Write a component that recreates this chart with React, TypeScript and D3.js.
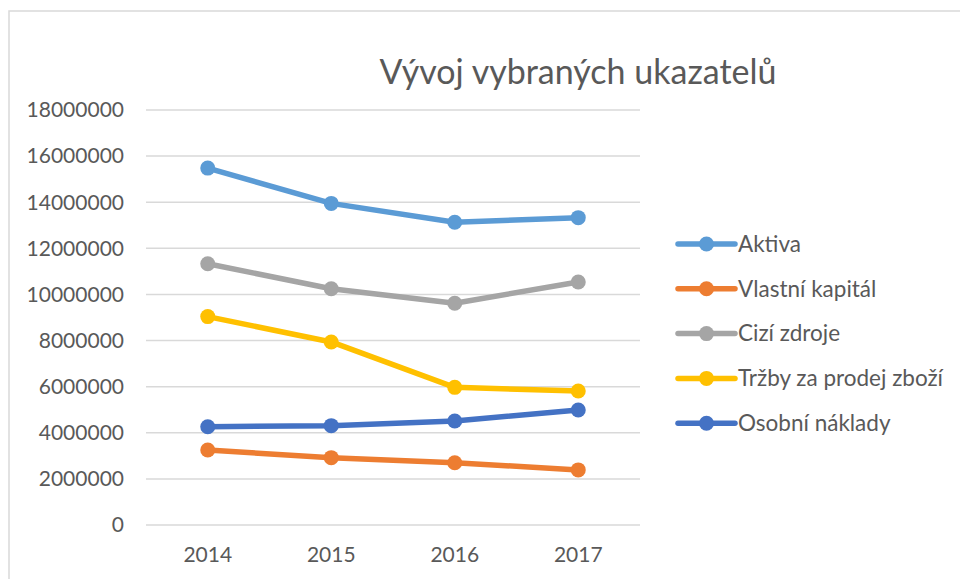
import React from "react";
import * as d3 from "d3";

const years = ["2014", "2015", "2016", "2017"];
const seriesNames = ["Aktiva", "Vlastní kapitál", "Cizí zdroje", "Tržby za prodej zboží", "Osobní náklady"];
const aktiva = [15480000, 13950000, 13130000, 13330000];
const vlastniKapital = [3250000, 2920000, 2700000, 2390000];
const ciziZdroje = [11330000, 10250000, 9620000, 10540000];
const trzby = [9040000, 7940000, 5970000, 5810000];
const osobniNaklady = [4260000, 4310000, 4510000, 4990000];
const colors = ["#5B9BD5", "#ED7D31", "#A5A5A5", "#FFC000", "#4472C4"];
const yTicks = [0, 2000000, 4000000, 6000000, 8000000, 10000000, 12000000, 14000000, 16000000, 18000000];
const title = "Vývoj vybraných ukazatelů";

const allSeries = [aktiva, vlastniKapital, ciziZdroje, trzby, osobniNaklady];

export default function App() {
  const W = 960, H = 579;
  const left = 146, right = 640, top = 110, bottom = 525;
  const x = d3.scaleBand<string>().domain(years).range([left, right]);
  const y = d3.scaleLinear().domain([0, 18000000]).range([bottom, top]);
  const line = d3
    .line<number>()
    .x((_, i) => (x(years[i]) as number) + x.bandwidth() / 2)
    .y((d) => y(d));
  const font = "Lato, sans-serif";
  const legendX = 678;
  const legendY0 = 244;
  const legendStep = 44.8;
  return (
    <svg width={W} height={H} style={{ position: "absolute", left: 0, top: 0, background: "#fff" }} fontFamily={font}>
      <rect x={0} y={0} width={W} height={H} fill="#fff" />
      <rect x={9} y={11} width={1200} height={1200} fill="#fff" stroke="#d9d9d9" strokeWidth={1.5} />
      <text x={578} y={72} dy="0.35em" textAnchor="middle" fontSize={34} fill="#595959">{title}</text>
      {yTicks.map((t) => (
        <g key={t}>
          <line x1={left} x2={right} y1={y(t)} y2={y(t)} stroke="#d9d9d9" strokeWidth={1.5} />
          <text x={124} y={y(t)} dy="0.35em" textAnchor="end" fontSize={21} fill="#595959">{t}</text>
        </g>
      ))}
      {years.map((yr) => (
        <text key={yr} x={(x(yr) as number) + x.bandwidth() / 2} y={555} dy="0.35em" textAnchor="middle" fontSize={21} fill="#595959">{yr}</text>
      ))}
      {allSeries.map((s, si) => (
        <g key={si}>
          <path d={line(s) as string} fill="none" stroke={colors[si]} strokeWidth={5.5} strokeLinejoin="round" strokeLinecap="round" />
          {s.map((v, i) => (
            <circle key={i} cx={(x(years[i]) as number) + x.bandwidth() / 2} cy={y(v)} r={7.5} fill={colors[si]} />
          ))}
        </g>
      ))}
      {seriesNames.map((n, i) => (
        <g key={n} transform={`translate(${legendX},${legendY0 + i * legendStep})`}>
          <line x1={0} x2={57} y1={0} y2={0} stroke={colors[i]} strokeWidth={5.5} strokeLinecap="round" />
          <circle cx={28.5} cy={0} r={7.5} fill={colors[i]} />
          <text x={60} y={0} dy="0.35em" fontSize={22.5} fill="#595959">{n}</text>
        </g>
      ))}
    </svg>
  );
}
